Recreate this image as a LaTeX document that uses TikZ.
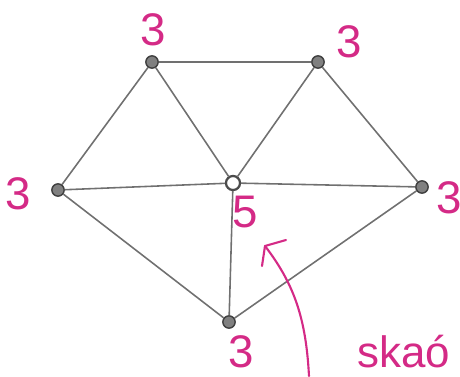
\documentclass[tikz,border=0pt]{standalone}
\usepackage{fontspec}
\setmainfont{Liberation Sans}
\definecolor{pink}{HTML}{D42A86}
\definecolor{edgec}{HTML}{707070}
\begin{document}
\begin{tikzpicture}[x=0.02cm,y=-0.02cm,
  vtx/.style={circle,draw=black!75,fill=black!50,line width=0.8pt,inner sep=0pt,minimum size=7pt},
  edge/.style={draw=edgec,line width=0.9pt},
  lab/.style={text=pink,font=\fontsize{26}{28}\selectfont,inner sep=0pt},
  arr/.style={draw=pink,line width=1.2pt,line cap=round}]
\path[use as bounding box] (0,0) rectangle (460,376);
\node[vtx] (A) at (152,62) {};
\node[vtx] (B) at (318,62) {};
\node[vtx] (C) at (58,190) {};
\node[vtx,fill=white,draw=black!70,line width=1.3pt,minimum size=8pt] (D) at (233,183) {};
\node[vtx] (E) at (422,187) {};
\node[vtx] (F) at (229,322) {};
\draw[edge] (A) -- (B);
\draw[edge] (A) -- (C);
\draw[edge] (A) -- (D);
\draw[edge] (B) -- (D);
\draw[edge] (B) -- (E);
\draw[edge] (C) -- (D);
\draw[edge] (D) -- (E);
\draw[edge] (C) -- (F);
\draw[edge] (D) -- (F);
\draw[edge] (E) -- (F);
\node[lab] (lA) at (153,30) {3};
\node[lab] (lB) at (349,42) {3};
\node[lab] (lC) at (18,194) {3};
\node[lab] (lD) at (245,212) {5};
\node[lab] (lE) at (449,198) {3};
\node[lab] (lF) at (241,352) {3};
\node[text=pink,font=\fontsize{25}{27}\selectfont,anchor=base west,inner sep=0pt] (txt) at (357,367) {skaó};
\coordinate (tip) at (265,246);
\coordinate (tail) at (309,376);
\draw[arr] (tail) .. controls (306,320) and (295,285) .. (tip);
\coordinate (h1) at (286,240);
\coordinate (h2) at (262,266);
\draw[arr,line join=round] (h1) -- (tip) -- (h2);
\end{tikzpicture}
\end{document}
